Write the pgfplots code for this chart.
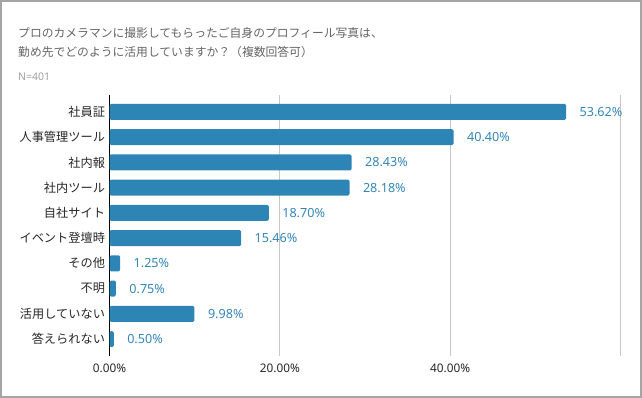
\documentclass[border=0pt]{standalone}
\usepackage{pgfplots}
\pgfplotsset{compat=1.18}
\usepackage{fontspec}
\setmainfont{Noto Sans}
\newfontfamily\cjk{Noto Sans CJK JP}
\definecolor{barblue}{RGB}{44,133,180}
\definecolor{valblue}{RGB}{52,134,184}
\definecolor{titlegray}{RGB}{100,100,100}
\definecolor{ngray}{RGB}{160,160,160}
\definecolor{framegray}{RGB}{165,165,165}
\begin{document}
\begin{tikzpicture}
\draw[line width=2pt, color=framegray] (1pt,1pt) rectangle (641pt,397pt);
\node[anchor=base west, font=\cjk\fontsize{11.8}{14}\selectfont, text=titlegray, inner sep=0] at (18pt,360pt) {プロのカメラマンに撮影してもらったご自身のプロフィール写真は、};
\node[anchor=base west, font=\cjk\fontsize{11.8}{14}\selectfont, text=titlegray, inner sep=0] at (18pt,341pt) {勤め先でどのように活用していますか？（複数回答可）};
\node[anchor=base west, font=\fontsize{10.5}{12}\selectfont, text=ngray, inner sep=0] at (18pt,317pt) {N=401};
\begin{axis}[
  at={(109.5pt,42pt)}, anchor=south west,
  scale only axis, width=511pt, height=261pt,
  xbar, bar width=16pt,
  xmin=0, xmax=60, ymin=-0.67, ymax=9.67,
  axis line style={draw=none},
  xtick={20,40,60},
  xticklabels={20.00\%,40.00\%,},
  extra x ticks={0},
  extra x tick labels={0.00\%},
  extra x tick style={grid style={black, line width=0.9pt}},
  xmajorgrids, grid style={color=black!22, line width=0.7pt},
  major tick length=0pt,
  ytick={0,...,9},
  yticklabels={答えられない,活用していない,不明,その他,イベント登壇時,自社サイト,社内ツール,社内報,人事管理ツール,社員証},
  yticklabel style={font=\cjk\fontsize{12.2}{14}\selectfont, text=black!85, xshift=-1pt},
  xticklabel style={font=\fontsize{11.8}{13}\selectfont, text=black!85, yshift=-4pt},
  /pgf/number format/assume math mode=true,
  point meta=x,
  nodes near coords={\pgfmathprintnumber[fixed,fixed zerofill,precision=2]{\pgfplotspointmeta}\%},
  every node near coord/.append style={font=\fontsize{12.6}{14}\selectfont, text=valblue, xshift=10pt},
  clip=false,
]
\addplot[fill=barblue, draw=none, rounded corners=1.5pt] coordinates {
(53.62,9) (40.40,8) (28.43,7) (28.18,6) (18.70,5) (15.46,4) (1.25,3) (0.75,2) (9.98,1) (0.50,0)
};
\end{axis}
\end{tikzpicture}
\end{document}
